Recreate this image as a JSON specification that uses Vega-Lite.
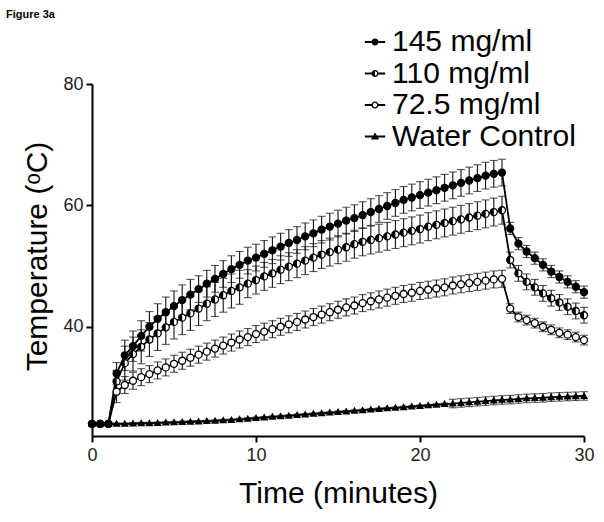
{
"$schema": "https://vega.github.io/schema/vega-lite/v6.json",
"width": 492, "height": 352,
"autosize": {"type": "none"},
"padding": {"left": 92, "top": 84, "right": 20, "bottom": 86},
"background": "white",
"title": {"text": "Figure 3a", "anchor": "start", "frame": "group", "font": "Liberation Sans", "fontSize": 11, "fontWeight": "bold", "color": "black", "dx": -86, "dy": -7, "offset": 0},
"data": {"values": [
{"series":"145 mg/ml","time":0,"temp":24.0,"sd":0.1},{"series":"145 mg/ml","time":0.5,"temp":24.0,"sd":0.1},{"series":"145 mg/ml","time":1,"temp":24.0,"sd":0.1},
{"series":"145 mg/ml","time":1.5,"temp":32.3,"sd":1.8},{"series":"145 mg/ml","time":2,"temp":35.3,"sd":2.5},{"series":"145 mg/ml","time":2.5,"temp":36.8,"sd":2.5},
{"series":"145 mg/ml","time":3,"temp":38.5,"sd":2.5},{"series":"145 mg/ml","time":3.5,"temp":40.0,"sd":2.5},{"series":"145 mg/ml","time":4,"temp":41.3,"sd":2.5},
{"series":"145 mg/ml","time":4.5,"temp":42.4,"sd":2.5},{"series":"145 mg/ml","time":5,"temp":43.4,"sd":2.5},{"series":"145 mg/ml","time":5.5,"temp":44.4,"sd":2.5},
{"series":"145 mg/ml","time":6,"temp":45.3,"sd":2.5},{"series":"145 mg/ml","time":6.5,"temp":46.2,"sd":2.2},{"series":"145 mg/ml","time":7,"temp":47.1,"sd":2.2},
{"series":"145 mg/ml","time":7.5,"temp":47.9,"sd":2.2},{"series":"145 mg/ml","time":8,"temp":48.7,"sd":2.2},{"series":"145 mg/ml","time":8.5,"temp":49.5,"sd":2.2},
{"series":"145 mg/ml","time":9,"temp":50.2,"sd":2.2},{"series":"145 mg/ml","time":9.5,"temp":50.9,"sd":2.2},{"series":"145 mg/ml","time":10,"temp":51.4,"sd":2.2},
{"series":"145 mg/ml","time":10.5,"temp":52.0,"sd":2.2},{"series":"145 mg/ml","time":11,"temp":52.6,"sd":2.2},{"series":"145 mg/ml","time":11.5,"temp":53.2,"sd":2.2},
{"series":"145 mg/ml","time":12,"temp":53.8,"sd":2.2},{"series":"145 mg/ml","time":12.5,"temp":54.3,"sd":2.2},{"series":"145 mg/ml","time":13,"temp":54.9,"sd":2.2},
{"series":"145 mg/ml","time":13.5,"temp":55.4,"sd":2.2},{"series":"145 mg/ml","time":14,"temp":56.0,"sd":2.2},{"series":"145 mg/ml","time":14.5,"temp":56.5,"sd":2.2},
{"series":"145 mg/ml","time":15,"temp":57.0,"sd":2.2},{"series":"145 mg/ml","time":15.5,"temp":57.5,"sd":2.2},{"series":"145 mg/ml","time":16,"temp":57.9,"sd":2.2},
{"series":"145 mg/ml","time":16.5,"temp":58.4,"sd":2.2},{"series":"145 mg/ml","time":17,"temp":58.9,"sd":2.2},{"series":"145 mg/ml","time":17.5,"temp":59.4,"sd":2.2},
{"series":"145 mg/ml","time":18,"temp":59.9,"sd":2.2},{"series":"145 mg/ml","time":18.5,"temp":60.4,"sd":2.2},{"series":"145 mg/ml","time":19,"temp":60.9,"sd":2.2},
{"series":"145 mg/ml","time":19.5,"temp":61.3,"sd":2.2},{"series":"145 mg/ml","time":20,"temp":61.7,"sd":2.2},{"series":"145 mg/ml","time":20.5,"temp":62.1,"sd":2.2},
{"series":"145 mg/ml","time":21,"temp":62.5,"sd":2.2},{"series":"145 mg/ml","time":21.5,"temp":62.9,"sd":2.2},{"series":"145 mg/ml","time":22,"temp":63.3,"sd":2.2},
{"series":"145 mg/ml","time":22.5,"temp":63.7,"sd":2.2},{"series":"145 mg/ml","time":23,"temp":64.1,"sd":2.2},{"series":"145 mg/ml","time":23.5,"temp":64.5,"sd":2.2},
{"series":"145 mg/ml","time":24,"temp":64.9,"sd":2.2},{"series":"145 mg/ml","time":24.5,"temp":65.2,"sd":2.2},{"series":"145 mg/ml","time":25,"temp":65.4,"sd":2.2},
{"series":"145 mg/ml","time":25.5,"temp":56.2,"sd":1.0},{"series":"145 mg/ml","time":26,"temp":53.7,"sd":1.0},{"series":"145 mg/ml","time":26.5,"temp":52.4,"sd":1.0},
{"series":"145 mg/ml","time":27,"temp":51.3,"sd":1.0},{"series":"145 mg/ml","time":27.5,"temp":50.2,"sd":1.0},{"series":"145 mg/ml","time":28,"temp":49.1,"sd":1.0},
{"series":"145 mg/ml","time":28.5,"temp":48.2,"sd":1.0},{"series":"145 mg/ml","time":29,"temp":47.4,"sd":1.0},{"series":"145 mg/ml","time":29.5,"temp":46.6,"sd":1.0},
{"series":"145 mg/ml","time":30,"temp":45.7,"sd":1.0},
{"series":"110 mg/ml","time":0,"temp":24.0,"sd":0.1},{"series":"110 mg/ml","time":0.5,"temp":24.0,"sd":0.1},{"series":"110 mg/ml","time":1,"temp":24.0,"sd":0.1},
{"series":"110 mg/ml","time":1.5,"temp":31.0,"sd":1.8},{"series":"110 mg/ml","time":2,"temp":34.0,"sd":2.8},{"series":"110 mg/ml","time":2.5,"temp":35.5,"sd":2.8},
{"series":"110 mg/ml","time":3,"temp":36.7,"sd":2.8},{"series":"110 mg/ml","time":3.5,"temp":37.9,"sd":2.8},{"series":"110 mg/ml","time":4,"temp":38.9,"sd":2.8},
{"series":"110 mg/ml","time":4.5,"temp":39.9,"sd":2.8},{"series":"110 mg/ml","time":5,"temp":40.8,"sd":2.8},{"series":"110 mg/ml","time":5.5,"temp":41.5,"sd":2.8},
{"series":"110 mg/ml","time":6,"temp":42.2,"sd":2.8},{"series":"110 mg/ml","time":6.5,"temp":43.0,"sd":2.8},{"series":"110 mg/ml","time":7,"temp":43.8,"sd":2.8},
{"series":"110 mg/ml","time":7.5,"temp":44.5,"sd":2.8},{"series":"110 mg/ml","time":8,"temp":45.2,"sd":2.8},{"series":"110 mg/ml","time":8.5,"temp":45.9,"sd":2.8},
{"series":"110 mg/ml","time":9,"temp":46.5,"sd":2.8},{"series":"110 mg/ml","time":9.5,"temp":47.1,"sd":2.3},{"series":"110 mg/ml","time":10,"temp":47.7,"sd":2.3},
{"series":"110 mg/ml","time":10.5,"temp":48.3,"sd":2.3},{"series":"110 mg/ml","time":11,"temp":48.8,"sd":2.3},{"series":"110 mg/ml","time":11.5,"temp":49.4,"sd":2.3},
{"series":"110 mg/ml","time":12,"temp":49.9,"sd":2.3},{"series":"110 mg/ml","time":12.5,"temp":50.4,"sd":2.3},{"series":"110 mg/ml","time":13,"temp":50.9,"sd":2.3},
{"series":"110 mg/ml","time":13.5,"temp":51.4,"sd":2.3},{"series":"110 mg/ml","time":14,"temp":51.9,"sd":2.3},{"series":"110 mg/ml","time":14.5,"temp":52.3,"sd":2.3},
{"series":"110 mg/ml","time":15,"temp":52.7,"sd":2.3},{"series":"110 mg/ml","time":15.5,"temp":53.1,"sd":2.3},{"series":"110 mg/ml","time":16,"temp":53.6,"sd":2.3},
{"series":"110 mg/ml","time":16.5,"temp":54.0,"sd":2.3},{"series":"110 mg/ml","time":17,"temp":54.3,"sd":2.3},{"series":"110 mg/ml","time":17.5,"temp":54.6,"sd":2.3},
{"series":"110 mg/ml","time":18,"temp":54.9,"sd":2.3},{"series":"110 mg/ml","time":18.5,"temp":55.2,"sd":2.3},{"series":"110 mg/ml","time":19,"temp":55.5,"sd":2.3},
{"series":"110 mg/ml","time":19.5,"temp":55.8,"sd":2.3},{"series":"110 mg/ml","time":20,"temp":56.1,"sd":2.3},{"series":"110 mg/ml","time":20.5,"temp":56.5,"sd":2.3},
{"series":"110 mg/ml","time":21,"temp":56.8,"sd":2.3},{"series":"110 mg/ml","time":21.5,"temp":57.1,"sd":2.3},{"series":"110 mg/ml","time":22,"temp":57.4,"sd":2.3},
{"series":"110 mg/ml","time":22.5,"temp":57.7,"sd":2.3},{"series":"110 mg/ml","time":23,"temp":58.0,"sd":2.3},{"series":"110 mg/ml","time":23.5,"temp":58.3,"sd":2.3},
{"series":"110 mg/ml","time":24,"temp":58.6,"sd":2.3},{"series":"110 mg/ml","time":24.5,"temp":58.9,"sd":2.3},{"series":"110 mg/ml","time":25,"temp":59.2,"sd":2.3},
{"series":"110 mg/ml","time":25.5,"temp":51.0,"sd":1.3},{"series":"110 mg/ml","time":26,"temp":48.8,"sd":1.3},{"series":"110 mg/ml","time":26.5,"temp":47.4,"sd":1.3},
{"series":"110 mg/ml","time":27,"temp":46.5,"sd":1.3},{"series":"110 mg/ml","time":27.5,"temp":45.5,"sd":1.3},{"series":"110 mg/ml","time":28,"temp":44.7,"sd":1.3},
{"series":"110 mg/ml","time":28.5,"temp":44.0,"sd":1.3},{"series":"110 mg/ml","time":29,"temp":43.3,"sd":1.3},{"series":"110 mg/ml","time":29.5,"temp":42.6,"sd":1.3},
{"series":"110 mg/ml","time":30,"temp":41.9,"sd":1.3},
{"series":"72.5 mg/ml","time":0,"temp":24.0,"sd":0.1},{"series":"72.5 mg/ml","time":0.5,"temp":24.0,"sd":0.1},{"series":"72.5 mg/ml","time":1,"temp":24.0,"sd":0.1},
{"series":"72.5 mg/ml","time":1.5,"temp":29.3,"sd":1.8},{"series":"72.5 mg/ml","time":2,"temp":30.4,"sd":1.4},{"series":"72.5 mg/ml","time":2.5,"temp":31.1,"sd":1.4},
{"series":"72.5 mg/ml","time":3,"temp":31.7,"sd":1.4},{"series":"72.5 mg/ml","time":3.5,"temp":32.2,"sd":1.4},{"series":"72.5 mg/ml","time":4,"temp":32.8,"sd":1.4},
{"series":"72.5 mg/ml","time":4.5,"temp":33.3,"sd":1.4},{"series":"72.5 mg/ml","time":5,"temp":33.9,"sd":1.4},{"series":"72.5 mg/ml","time":5.5,"temp":34.4,"sd":1.4},
{"series":"72.5 mg/ml","time":6,"temp":34.9,"sd":1.4},{"series":"72.5 mg/ml","time":6.5,"temp":35.4,"sd":1.4},{"series":"72.5 mg/ml","time":7,"temp":35.9,"sd":1.4},
{"series":"72.5 mg/ml","time":7.5,"temp":36.4,"sd":1.4},{"series":"72.5 mg/ml","time":8,"temp":36.9,"sd":1.4},{"series":"72.5 mg/ml","time":8.5,"temp":37.4,"sd":1.4},
{"series":"72.5 mg/ml","time":9,"temp":37.9,"sd":1.4},{"series":"72.5 mg/ml","time":9.5,"temp":38.3,"sd":1.4},{"series":"72.5 mg/ml","time":10,"temp":38.8,"sd":1.4},
{"series":"72.5 mg/ml","time":10.5,"temp":39.2,"sd":1.4},{"series":"72.5 mg/ml","time":11,"temp":39.6,"sd":1.4},{"series":"72.5 mg/ml","time":11.5,"temp":40.0,"sd":1.4},
{"series":"72.5 mg/ml","time":12,"temp":40.4,"sd":1.4},{"series":"72.5 mg/ml","time":12.5,"temp":40.8,"sd":1.4},{"series":"72.5 mg/ml","time":13,"temp":41.2,"sd":1.4},
{"series":"72.5 mg/ml","time":13.5,"temp":41.6,"sd":1.4},{"series":"72.5 mg/ml","time":14,"temp":42.0,"sd":1.4},{"series":"72.5 mg/ml","time":14.5,"temp":42.4,"sd":1.4},
{"series":"72.5 mg/ml","time":15,"temp":42.8,"sd":1.4},{"series":"72.5 mg/ml","time":15.5,"temp":43.2,"sd":1.4},{"series":"72.5 mg/ml","time":16,"temp":43.5,"sd":1.4},
{"series":"72.5 mg/ml","time":16.5,"temp":43.9,"sd":1.4},{"series":"72.5 mg/ml","time":17,"temp":44.2,"sd":1.4},{"series":"72.5 mg/ml","time":17.5,"temp":44.5,"sd":1.4},
{"series":"72.5 mg/ml","time":18,"temp":44.8,"sd":1.4},{"series":"72.5 mg/ml","time":18.5,"temp":45.1,"sd":1.4},{"series":"72.5 mg/ml","time":19,"temp":45.4,"sd":1.4},
{"series":"72.5 mg/ml","time":19.5,"temp":45.6,"sd":1.4},{"series":"72.5 mg/ml","time":20,"temp":45.9,"sd":1.4},{"series":"72.5 mg/ml","time":20.5,"temp":46.1,"sd":1.4},
{"series":"72.5 mg/ml","time":21,"temp":46.3,"sd":1.4},{"series":"72.5 mg/ml","time":21.5,"temp":46.5,"sd":1.4},{"series":"72.5 mg/ml","time":22,"temp":46.8,"sd":1.4},
{"series":"72.5 mg/ml","time":22.5,"temp":47.0,"sd":1.4},{"series":"72.5 mg/ml","time":23,"temp":47.2,"sd":1.4},{"series":"72.5 mg/ml","time":23.5,"temp":47.4,"sd":1.4},
{"series":"72.5 mg/ml","time":24,"temp":47.6,"sd":1.4},{"series":"72.5 mg/ml","time":24.5,"temp":47.8,"sd":1.4},{"series":"72.5 mg/ml","time":25,"temp":47.9,"sd":1.4},
{"series":"72.5 mg/ml","time":25.5,"temp":43.0,"sd":0.8},{"series":"72.5 mg/ml","time":26,"temp":41.6,"sd":0.8},{"series":"72.5 mg/ml","time":26.5,"temp":41.1,"sd":0.8},
{"series":"72.5 mg/ml","time":27,"temp":40.6,"sd":0.8},{"series":"72.5 mg/ml","time":27.5,"temp":40.0,"sd":0.8},{"series":"72.5 mg/ml","time":28,"temp":39.5,"sd":0.8},
{"series":"72.5 mg/ml","time":28.5,"temp":39.0,"sd":0.8},{"series":"72.5 mg/ml","time":29,"temp":38.7,"sd":0.8},{"series":"72.5 mg/ml","time":29.5,"temp":38.3,"sd":0.8},
{"series":"72.5 mg/ml","time":30,"temp":37.8,"sd":0.8},
{"series":"Water Control","time":0,"temp":24.0,"sd":0.15},{"series":"Water Control","time":0.5,"temp":24.0,"sd":0.15},{"series":"Water Control","time":1,"temp":24.0,"sd":0.15},
{"series":"Water Control","time":1.5,"temp":24.0,"sd":0.15},{"series":"Water Control","time":2,"temp":24.0,"sd":0.15},{"series":"Water Control","time":2.5,"temp":24.05,"sd":0.15},
{"series":"Water Control","time":3,"temp":24.1,"sd":0.15},{"series":"Water Control","time":3.5,"temp":24.1,"sd":0.15},{"series":"Water Control","time":4,"temp":24.15,"sd":0.15},
{"series":"Water Control","time":4.5,"temp":24.2,"sd":0.15},{"series":"Water Control","time":5,"temp":24.25,"sd":0.15},{"series":"Water Control","time":5.5,"temp":24.3,"sd":0.15},
{"series":"Water Control","time":6,"temp":24.35,"sd":0.15},{"series":"Water Control","time":6.5,"temp":24.4,"sd":0.15},{"series":"Water Control","time":7,"temp":24.45,"sd":0.15},
{"series":"Water Control","time":7.5,"temp":24.5,"sd":0.15},{"series":"Water Control","time":8,"temp":24.6,"sd":0.15},{"series":"Water Control","time":8.5,"temp":24.65,"sd":0.15},
{"series":"Water Control","time":9,"temp":24.75,"sd":0.15},{"series":"Water Control","time":9.5,"temp":24.85,"sd":0.15},{"series":"Water Control","time":10,"temp":24.95,"sd":0.15},
{"series":"Water Control","time":10.5,"temp":25.05,"sd":0.15},{"series":"Water Control","time":11,"temp":25.15,"sd":0.15},{"series":"Water Control","time":11.5,"temp":25.25,"sd":0.15},
{"series":"Water Control","time":12,"temp":25.35,"sd":0.15},{"series":"Water Control","time":12.5,"temp":25.45,"sd":0.15},{"series":"Water Control","time":13,"temp":25.55,"sd":0.15},
{"series":"Water Control","time":13.5,"temp":25.65,"sd":0.15},{"series":"Water Control","time":14,"temp":25.75,"sd":0.15},{"series":"Water Control","time":14.5,"temp":25.85,"sd":0.15},
{"series":"Water Control","time":15,"temp":25.95,"sd":0.15},{"series":"Water Control","time":15.5,"temp":26.05,"sd":0.15},{"series":"Water Control","time":16,"temp":26.15,"sd":0.15},
{"series":"Water Control","time":16.5,"temp":26.25,"sd":0.15},{"series":"Water Control","time":17,"temp":26.35,"sd":0.15},{"series":"Water Control","time":17.5,"temp":26.45,"sd":0.15},
{"series":"Water Control","time":18,"temp":26.55,"sd":0.15},{"series":"Water Control","time":18.5,"temp":26.65,"sd":0.15},{"series":"Water Control","time":19,"temp":26.75,"sd":0.15},
{"series":"Water Control","time":19.5,"temp":26.85,"sd":0.15},{"series":"Water Control","time":20,"temp":26.95,"sd":0.15},{"series":"Water Control","time":20.5,"temp":27.05,"sd":0.15},
{"series":"Water Control","time":21,"temp":27.15,"sd":0.15},{"series":"Water Control","time":21.5,"temp":27.25,"sd":0.15},{"series":"Water Control","time":22,"temp":27.35,"sd":0.7},
{"series":"Water Control","time":22.5,"temp":27.45,"sd":0.7},{"series":"Water Control","time":23,"temp":27.55,"sd":0.7},{"series":"Water Control","time":23.5,"temp":27.65,"sd":0.7},
{"series":"Water Control","time":24,"temp":27.75,"sd":0.7},{"series":"Water Control","time":24.5,"temp":27.85,"sd":0.7},{"series":"Water Control","time":25,"temp":27.95,"sd":0.7},
{"series":"Water Control","time":25.5,"temp":28.0,"sd":0.7},{"series":"Water Control","time":26,"temp":28.1,"sd":0.7},{"series":"Water Control","time":26.5,"temp":28.2,"sd":0.7},
{"series":"Water Control","time":27,"temp":28.25,"sd":0.7},{"series":"Water Control","time":27.5,"temp":28.3,"sd":0.7},{"series":"Water Control","time":28,"temp":28.4,"sd":0.7},
{"series":"Water Control","time":28.5,"temp":28.45,"sd":0.7},{"series":"Water Control","time":29,"temp":28.5,"sd":0.7},{"series":"Water Control","time":29.5,"temp":28.55,"sd":0.7},
{"series":"Water Control","time":30,"temp":28.6,"sd":0.7}
]},
"encoding": {
  "x": {"field": "time", "type": "quantitative", "scale": {"domain": [0, 30], "nice": false, "zero": false},
        "axis": {"values": [0, 10, 20, 30], "labelFlush": false, "title": "Time (minutes)", "titleFontSize": 30, "titlePadding": 14, "labelPadding": 4}},
  "y": {"field": "temp", "type": "quantitative", "scale": {"domain": [22, 80], "nice": false, "zero": false},
        "axis": {"values": [40, 60, 80], "labelFlush": false, "title": "Temperature (ᵒC)", "titleFontSize": 30, "titlePadding": 10, "titleY": 172, "labelPadding": 3}}
},
"layer": [
  {"mark": {"type": "errorbar", "color": "#111", "ticks": {"size": 8, "thickness": 1.1}, "rule": {"strokeWidth": 1.1}},
   "encoding": {"yError": {"field": "sd"}, "detail": {"field": "series"}}},
  {"mark": {"type": "line", "color": "black", "strokeWidth": 1.8},
   "encoding": {"detail": {"field": "series"}}},
  {"transform": [{"filter": "datum.series != 'Water Control'"}],
   "mark": {"type": "point", "shape": "circle", "filled": true, "fill": "white", "stroke": "black", "strokeWidth": 1.3, "size": 49, "opacity": 1}},
  {"transform": [{"filter": "datum.series != '72.5 mg/ml'"}],
   "mark": {"type": "point", "filled": true, "color": "black", "size": 49, "opacity": 1, "strokeWidth": 0},
   "encoding": {"shape": {"field": "series", "legend": null,
     "scale": {"domain": ["145 mg/ml", "110 mg/ml", "Water Control"],
               "range": ["circle", "M 0 1 A 1 1 0 0 1 0 -1 Z", "M 0 -1.15 L 1.15 0.85 L -1.15 0.85 Z"]}}}},
  {"mark": {"type": "point", "filled": true, "color": "black", "opacity": 0},
   "encoding": {"shape": {"field": "series",
     "scale": {"domain": ["145 mg/ml", "110 mg/ml", "72.5 mg/ml", "Water Control"],
               "range": [
                 "M -2.9 -0.28 H 2.9 V 0.28 H -2.9 Z M 1 0 A 1 1 0 1 1 -1 0 A 1 1 0 1 1 1 0 Z",
                 "M -2.9 -0.28 H -0.9 V 0.28 H -2.9 Z M 0.9 -0.28 H 2.9 V 0.28 H 0.9 Z M 1 0 A 1 1 0 1 1 -1 0 A 1 1 0 1 1 1 0 Z M 0.62 0 A 0.62 0.62 0 1 0 -0.62 0 A 0.62 0.62 0 1 0 0.62 0 Z M 0 1 A 1 1 0 0 1 0 -1 Z",
                 "M -2.9 -0.28 H -0.9 V 0.28 H -2.9 Z M 0.9 -0.28 H 2.9 V 0.28 H 0.9 Z M 1 0 A 1 1 0 1 1 -1 0 A 1 1 0 1 1 1 0 Z M 0.62 0 A 0.62 0.62 0 1 0 -0.62 0 A 0.62 0.62 0 1 0 0.62 0 Z",
                 "M -2.9 -0.28 H 2.9 V 0.28 H -2.9 Z M 0 -1.15 L 1.15 0.85 L -1.15 0.85 Z"]},
     "legend": {"orient": "none", "legendX": 268, "legendY": -57, "title": null, "padding": 0,
                "labelFont": "Liberation Sans", "labelFontSize": 30, "labelColor": "black", "labelOffset": 2, "labelLimit": 400,
                "symbolSize": 49, "symbolFillColor": "black", "symbolStrokeWidth": 0, "symbolOpacity": 1, "rowPadding": 1.5}}}}
],
"resolve": {"scale": {"shape": "independent"}},
"config": {
  "view": {"stroke": null},
  "axis": {"grid": false, "domainColor": "black", "domainWidth": 2, "tickColor": "black", "tickWidth": 2, "tickSize": 6,
           "labelFont": "Liberation Sans", "labelFontSize": 18, "labelColor": "#222",
           "titleFont": "Liberation Sans", "titleFontWeight": "normal", "titleColor": "black"}
}
}
